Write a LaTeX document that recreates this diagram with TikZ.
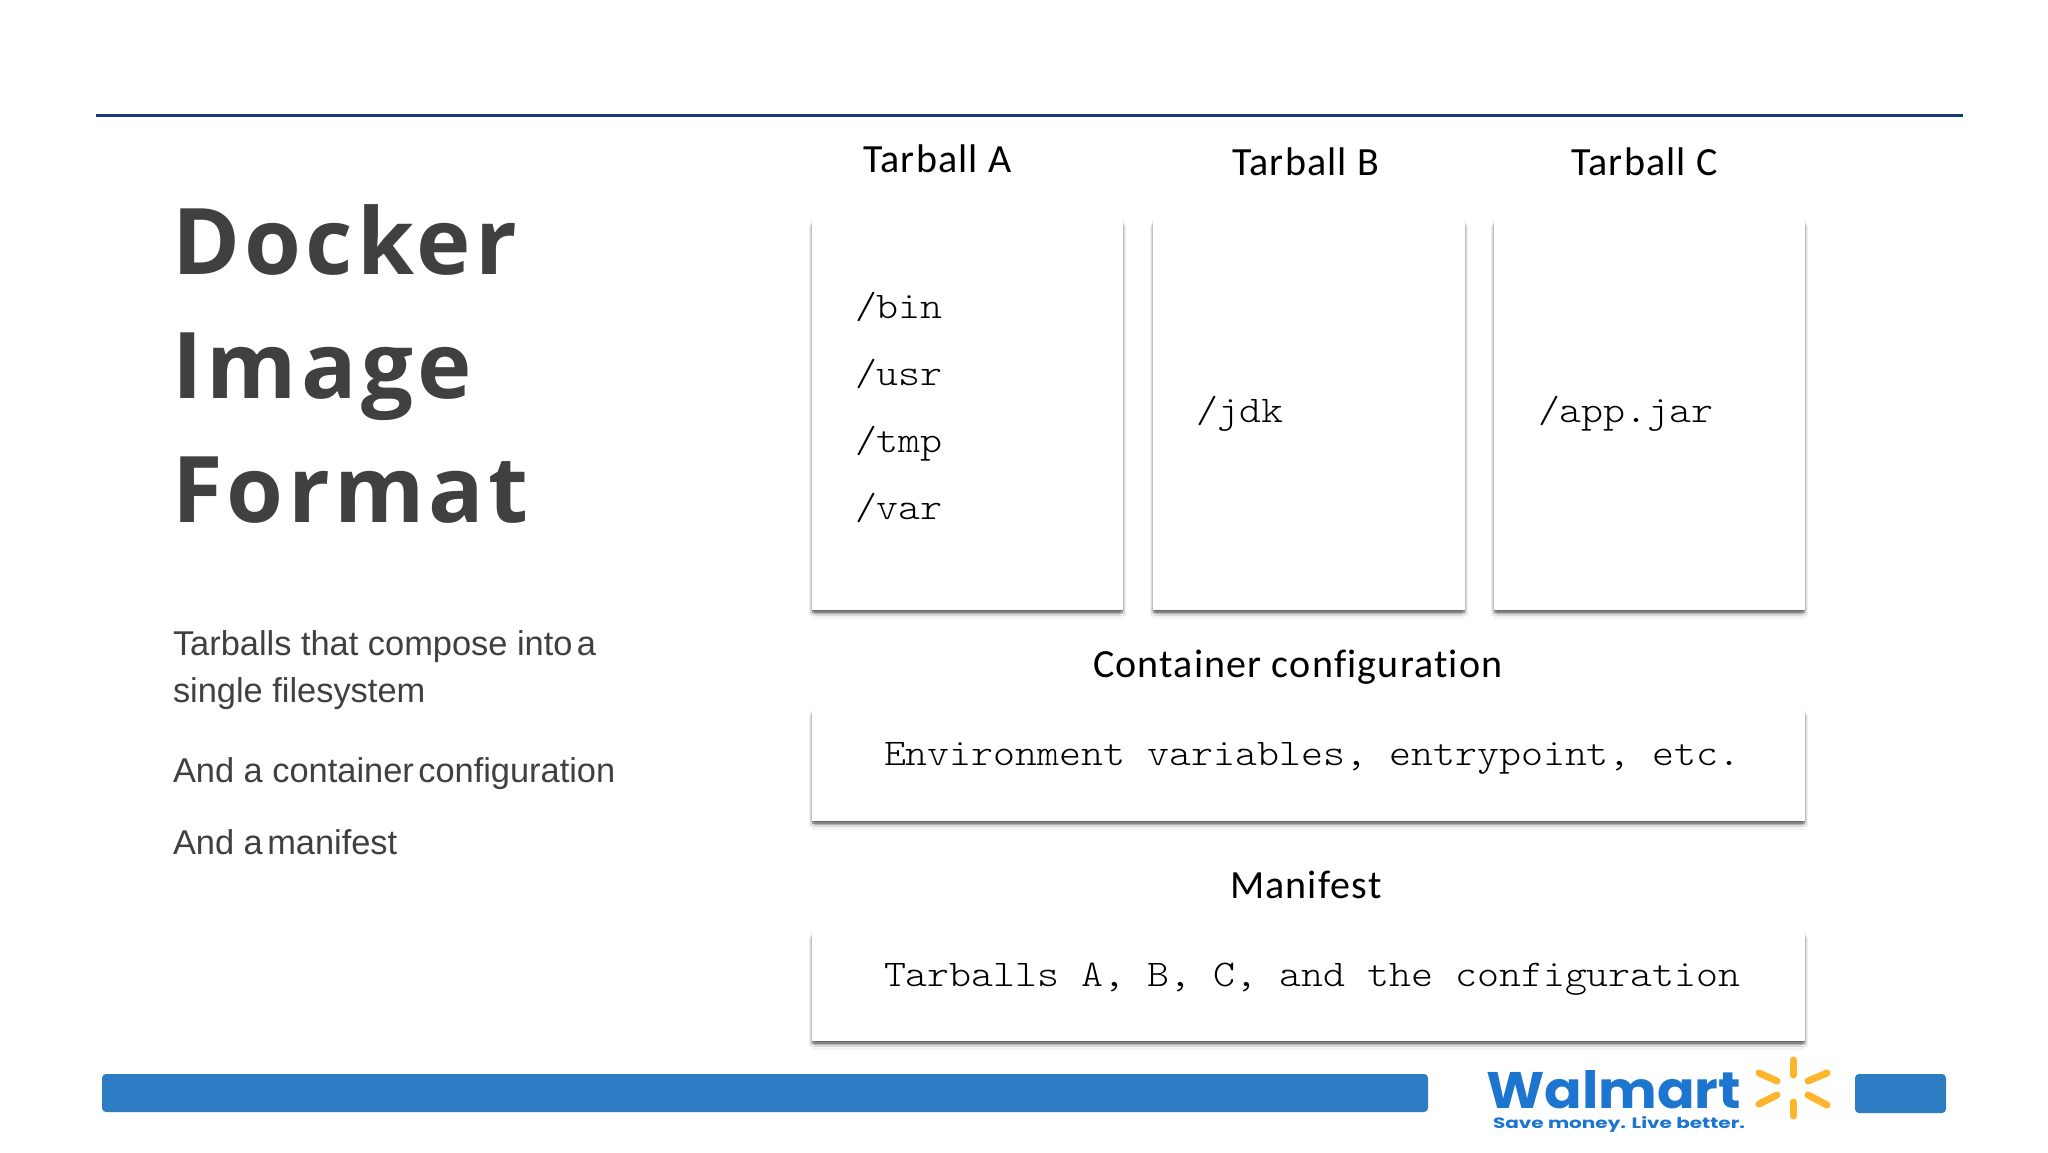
\documentclass[tikz,border=0pt]{standalone}
\usepackage{fontspec}
\usetikzlibrary{shadows}
\setmainfont{Liberation Sans}
\newfontfamily\titlefont[LetterSpace=4.7]{Open Sans}
\newfontfamily\labelfont[LetterSpace=3,Ligatures=NoCommon]{Carlito}
\newfontfamily\codefont[FakeStretch=1.11]{Latin Modern Mono Light}
\newfontfamily\logofont{Poppins}
\definecolor{ink}{HTML}{404040}
\definecolor{rulenavy}{HTML}{163A7A}
\definecolor{barblue}{HTML}{2E7CC3}
\definecolor{logoblue}{HTML}{1C75CF}
\definecolor{sparkyellow}{HTML}{FDB52B}
\tikzset{
  x=1pt,y=-1pt,
  txt/.style={anchor=base west,inner sep=0pt,outer sep=0pt},
  titletxt/.style={txt,text=ink,font=\titlefont\bfseries\fontsize{92}{92}\selectfont},
  bodytxt/.style={txt,text=ink,font=\fontsize{34.4}{34.4}\selectfont},
  labeltxt/.style={txt,text=black,font=\labelfont\fontsize{40}{40}\selectfont},
  codetxt/.style={txt,text=black,font=\codefont\fontsize{37.7}{37.7}\selectfont},
  card/.style={anchor=north west,inner sep=0pt,outer sep=0pt,fill=white,
    general shadow={shadow xshift=0pt,shadow yshift=-9pt,fill=black,opacity=.04},
    general shadow={shadow xshift=-3pt,shadow yshift=-6pt,fill=black,opacity=.06},
    general shadow={shadow xshift=3pt,shadow yshift=-6pt,fill=black,opacity=.06},
    general shadow={shadow xshift=-2pt,shadow yshift=-4pt,fill=black,opacity=.09},
    general shadow={shadow xshift=2pt,shadow yshift=-4pt,fill=black,opacity=.09},
    general shadow={shadow xshift=0pt,shadow yshift=-2.5pt,fill=black,opacity=.25},
    general shadow={shadow xshift=-1pt,shadow yshift=-1pt,fill=black,opacity=.12},
    general shadow={shadow xshift=1pt,shadow yshift=-1pt,fill=black,opacity=.12}},
  bar/.style={anchor=north west,inner sep=0pt,outer sep=0pt,fill=barblue,rounded corners=4pt},
  spark/.style={draw=sparkyellow,line width=7pt,line cap=round}
}
\begin{document}
\begin{tikzpicture}
\useasboundingbox (0,0) rectangle (2048,1152);
\fill[white] (0,0) rectangle (2048,1152);
% top rule
\coordinate (ruleL) at (96,115);
\coordinate (ruleR) at (1963,115);
\draw[rulenavy,line width=3pt] (ruleL) -- (ruleR);
% left column
\node[titletxt] (t1) at (172,274) {Docker};
\node[titletxt] (t2) at (172,398) {Image};
\node[titletxt] (t3) at (172,522) {Format};
\node[bodytxt] (b1) at (173,655) {Tarballs that compose into\hspace{-.15em} a};
\node[bodytxt] (b2) at (173,702) {single filesystem};
\node[bodytxt] (b3) at (173,782) {And a container\hspace{-.15em} configuration};
\node[bodytxt] (b4) at (173,854) {And a\hspace{-.15em} manifest};
% cards
\node[card,minimum width=311pt,minimum height=390pt] (cardA) at (812,220) {};
\node[card,minimum width=312pt,minimum height=390pt] (cardB) at (1153,220) {};
\node[card,minimum width=311pt,minimum height=390pt] (cardC) at (1494,220) {};
\node[card,minimum width=993pt,minimum height=111pt] (cardD) at (812,710) {};
\node[card,minimum width=993pt,minimum height=109pt] (cardE) at (812,932) {};
% labels
\node[labeltxt] (la) at (863,172) {Tarball A};
\node[labeltxt] (lb) at (1232,175) {Tarball B};
\node[labeltxt] (lc) at (1571,175) {Tarball C};
\node[labeltxt] (ld) at (1093,677) {Container configuration};
\node[labeltxt] (le) at (1230,898) {Manifest};
% code
\node[codetxt] (c1) at (855,318) {/bin};
\node[codetxt] (c2) at (855,385) {/usr};
\node[codetxt] (c3) at (855,452) {/tmp};
\node[codetxt] (c4) at (855,519) {/var};
\node[codetxt] (c5) at (1196,422) {/jdk};
\node[codetxt] (c6) at (1538,422) {/app.jar};
\node[codetxt] (c7) at (884,765) {Environment variables, entrypoint, etc.};
\node[codetxt] (c8) at (884,986) {Tarballs A, B, C, and the configuration};
% bars
\node[bar,minimum width=1326pt,minimum height=38pt] (bar1) at (102,1074) {};
\node[bar,minimum width=91pt,minimum height=39pt] (bar2) at (1855,1074) {};
% logo
\node[txt,text=logoblue,font=\logofont\bfseries\fontsize{56}{56}\selectfont] (w1) at (1486,1108) {\resizebox{255pt}{38pt}{Walmart}};
\node[txt,text=logoblue,font=\logofont\bfseries\fontsize{18}{18}\selectfont] (w2) at (1493,1128) {\resizebox{252pt}{12pt}{Save money. Live better.}};
\draw[spark] (1793,1060) -- (1793,1075);
\draw[spark] (1793,1102) -- (1793,1116);
\draw[spark] (1759,1073) -- (1777,1081);
\draw[spark] (1827,1073) -- (1808,1081);
\draw[spark] (1759,1104) -- (1777,1095);
\draw[spark] (1827,1105) -- (1808,1095);
\end{tikzpicture}
\end{document}
